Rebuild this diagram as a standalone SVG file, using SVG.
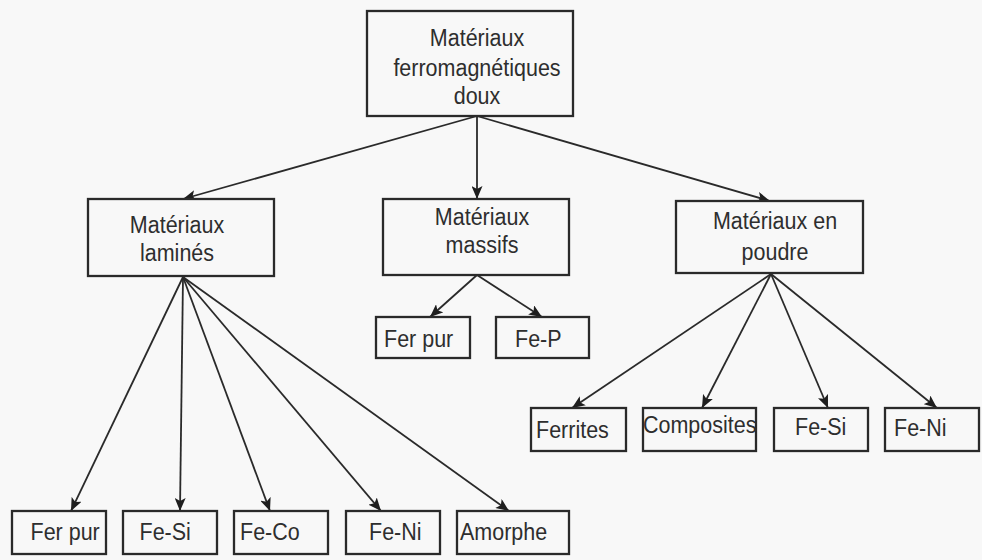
<svg xmlns="http://www.w3.org/2000/svg" width="982" height="560" viewBox="0 0 982 560">
<defs>
<style>
.box{fill:#f8f8f8;stroke:#2a2a2a;stroke-width:2.3}
.t{font-family:"Liberation Sans",Arial,sans-serif;font-size:21.5px;fill:#2e2e2e}
.c{text-anchor:middle}
.ln{stroke:#2a2a2a;stroke-width:1.8;fill:none;marker-end:url(#ah)}
</style>
<marker id="ah" viewBox="0 0 13 11" refX="13" refY="5.5" markerWidth="13" markerHeight="11" markerUnits="userSpaceOnUse" orient="auto">
<path d="M0,0 L13,5.5 L0,11 L3,5.5 Z" fill="#1e1e1e"/>
</marker>
</defs>
<rect width="982" height="560" fill="#f8f8f8"/>
<g id="connectors">
<line class="ln" x1="477" y1="116" x2="183" y2="199"/>
<line class="ln" x1="477" y1="116" x2="477" y2="199"/>
<line class="ln" x1="477" y1="116" x2="770" y2="201"/>
<line class="ln" x1="183" y1="277" x2="71" y2="511"/>
<line class="ln" x1="183" y1="277" x2="180" y2="511"/>
<line class="ln" x1="183" y1="277" x2="270" y2="511"/>
<line class="ln" x1="183" y1="277" x2="381" y2="511"/>
<line class="ln" x1="183" y1="277" x2="509" y2="511"/>
<line class="ln" x1="477" y1="275" x2="430" y2="317"/>
<line class="ln" x1="477" y1="275" x2="542" y2="317"/>
<line class="ln" x1="771" y1="274" x2="572" y2="408"/>
<line class="ln" x1="771" y1="274" x2="702" y2="408"/>
<line class="ln" x1="771" y1="274" x2="828" y2="408"/>
<line class="ln" x1="771" y1="274" x2="937" y2="408"/>
</g>
<g id="root">
<rect class="box" x="367" y="11" width="206" height="105"/>
<text class="t c" transform="translate(477,45.5) scale(1,1.15)">Matériaux</text>
<text class="t c" transform="translate(477,75.5) scale(1,1.15)">ferromagnétiques</text>
<text class="t c" transform="translate(477,104) scale(1,1.15)">doux</text>
</g>
<g id="lamines">
<rect class="box" x="88" y="199" width="186" height="77"/>
<text class="t c" transform="translate(177,233) scale(1,1.15)">Matériaux</text>
<text class="t c" transform="translate(177,261) scale(1,1.15)">laminés</text>
</g>
<g id="massifs">
<rect class="box" x="383" y="199" width="186" height="76"/>
<text class="t c" transform="translate(482,225) scale(1,1.15)">Matériaux</text>
<text class="t c" transform="translate(482,253) scale(1,1.15)">massifs</text>
</g>
<g id="poudre">
<rect class="box" x="676" y="201" width="187" height="72"/>
<text class="t c" transform="translate(775,229) scale(1,1.15)">Matériaux en</text>
<text class="t c" transform="translate(775,259.5) scale(1,1.15)">poudre</text>
</g>
<g id="m-ferpur">
<rect class="box" x="376" y="317" width="94" height="41"/>
<text class="t" transform="translate(384,347) scale(1,1.15)">Fer pur</text>
</g>
<g id="m-fep">
<rect class="box" x="496" y="317" width="93" height="41"/>
<text class="t" transform="translate(515,347) scale(1,1.15)">Fe-P</text>
</g>
<g id="l-ferpur">
<rect class="box" x="12" y="511" width="94" height="43"/>
<text class="t" transform="translate(30.5,540) scale(1,1.15)">Fer pur</text>
</g>
<g id="l-fesi">
<rect class="box" x="123" y="511" width="94" height="43"/>
<text class="t" transform="translate(139.5,540) scale(1,1.15)">Fe-Si</text>
</g>
<g id="l-feco">
<rect class="box" x="234" y="511" width="94" height="43"/>
<text class="t" transform="translate(240,540) scale(1,1.15)">Fe-Co</text>
</g>
<g id="l-feni">
<rect class="box" x="346" y="511" width="94" height="43"/>
<text class="t" transform="translate(369,540) scale(1,1.15)">Fe-Ni</text>
</g>
<g id="l-amorphe">
<rect class="box" x="457" y="511" width="112" height="43"/>
<text class="t" transform="translate(460,540) scale(1,1.15)">Amorphe</text>
</g>
<g id="p-ferrites">
<rect class="box" x="531" y="408" width="95" height="43"/>
<text class="t" transform="translate(536,438) scale(1,1.15)">Ferrites</text>
</g>
<g id="p-composites">
<rect class="box" x="643" y="408" width="113" height="43"/>
<text class="t" transform="translate(643,433) scale(1,1.15)">Composites</text>
</g>
<g id="p-fesi">
<rect class="box" x="774" y="408" width="94" height="43"/>
<text class="t" transform="translate(795,435) scale(1,1.15)">Fe-Si</text>
</g>
<g id="p-feni">
<rect class="box" x="885" y="408" width="94" height="43"/>
<text class="t" transform="translate(894,435.5) scale(1,1.15)">Fe-Ni</text>
</g>
</svg>
